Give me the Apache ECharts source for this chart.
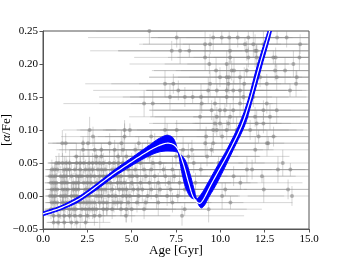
<!DOCTYPE html>
<html><head><meta charset="utf-8">
<script src="https://cdn.jsdelivr.net/npm/echarts@6/dist/echarts.min.js"></script>
<style>html,body{margin:0;padding:0;background:#fff}#c{width:344px;height:258px}</style>
</head><body><div id="c"></div>
<script>
// ---- data ----
const xTicks = ['0.0','2.5','5.0','7.5','10.0','12.5','15.0'];
const yTicks = ['−0.05','0.00','0.05','0.10','0.15','0.20','0.25'];

const alphaLevels = [0.25,0.24,0.23,0.22,0.21,0.20,0.19,0.18,0.17,0.16,0.15,0.14,0.13,0.12,0.11,0.10,0.09,0.08,0.07,0.06,0.05,0.04,0.03,0.02,0.01,0.00,-0.01,-0.02,-0.03,-0.04];

const agesByRow = [
 [6.0],
 [7.54,9.6,10.08,10.5,10.98,11.58,13.2,13.74],
 [9.14,9.42,11.39,11.86,12.43,14.5],
 [7.26,7.73,8.25,10.55,11.49,11.96,12.05],
 [9.14,10.55,11.58,12.05,12.99,13.12,14.46],
 [9.38,10.36,12.14,14.12],
 [9.76,10.64,10.77,11.49,13.09,13.65],
 [9.98,10.36,10.49,11.11,12.24,13.18,14.31],
 [6.88,7.35,9.42,10.45,11.35,12.62,14.27],
 [7.63,9.32,9.8,10.36,10.73,11.11,13.93],
 [7.16,8.0,8.44,8.91,10.36,11.3,11.86],
 [5.7,6.19,8.95,9.7,11.11,12.62],
 [9.51,9.98,10.26,10.73,12.43,13.18],
 [8.86,9.8,10.55,11.49,11.96,12.8],
 [9.7,9.98,10.45,12.05,12.43],
 [2.63,4.6,4.9,6.88,7.54,9.6,9.8,10.36,10.92,11.68],
 [2.82,4.6,6.1,7.0,9.2,10.1,12.16,13.0],
 [1.09,1.28,2.26,2.54,3.76,4.42,5.4,6.3,9.15,9.6,12.63,12.7],
 [2.26,2.91,3.29,4.04,4.51,5.2,5.9,7.9,8.4,9.5,11.97],
 [1.88,3.0,3.29,4.23,4.7,5.3,5.6,6.0,7.5,8.2,9.25,10.4],
 [0.75,1.1,1.5,1.9,2.3,2.6,3.0,3.4,3.75,4.5,5.0,5.5,6.2,6.6,7.8,8.5,9.9,13.52, 0.9,1.3,2.1,2.8,3.2,4.0,4.25],
 [0.5,0.8,1.2,1.5,1.8,2.1,2.4,2.8,3.1,3.5,3.9,4.3,4.8,5.2,5.7,6.1,6.8,7.3,8.0,8.9,11.5,11.79,13.25,13.95, 0.65,1.35,2.6,3.3,4.1,4.55],
 [0.4,0.7,1.0,1.3,1.6,1.9,2.2,2.5,2.9,3.2,3.6,4.0,4.4,4.9,5.3,5.8,6.3,6.9,7.4,8.1,10.75,12.35, 0.55,1.15,2.05,2.7,3.4,4.2,5.05],
 [0.45,0.75,1.05,1.35,1.7,2.0,2.3,2.7,3.0,3.4,3.8,4.2,4.6,5.0,5.5,6.0,6.5,7.1,7.7,8.6,11.13, 0.6,1.2,1.85,2.5,3.2,3.6,4.4],
 [0.5,0.8,1.1,1.4,1.7,2.0,2.4,2.8,3.1,3.5,3.9,4.3,4.7,5.1,5.6,6.1,6.6,7.2,8.0,10.28,12.45,13.82, 0.65,1.25,1.85,2.6,3.3,4.5,5.35],
 [0.4,0.7,1.0,1.3,1.6,1.9,2.3,2.6,3.0,3.3,3.7,4.1,4.5,4.9,5.4,5.9,6.4,7.0,7.6,10.1,14.04, 0.55,1.15,1.75,2.45,3.15,3.9,4.7],
 [0.5,0.8,1.1,1.4,1.8,2.1,2.5,2.9,3.2,3.6,4.0,4.4,4.8,5.3,5.8,6.5,7.3,10.57, 0.65,1.25,1.6,2.3,2.7,3.4,4.2],
 [0.45,0.8,1.15,1.5,1.85,2.2,2.6,3.0,3.4,3.9,4.4,5.0,5.7,7.99,9.34, 0.6,1.0,1.7,2.4,2.8,3.6,4.7],
 [0.6,0.9,1.2,1.5,1.8,2.1,2.5,2.9,3.2,4.68,7.84],
 [0.6,0.85,1.2,1.6,1.9,2.4]
];

const ageErrByRow = [
 [3.0],
 [5.0,3.5,4.0,3.0,4.5,3.5,3.0,4.0],
 [3.5,4.0,3.5,4.5,3.0,3.5],
 [4.6,3.5,4.0,4.5,3.5,4.0,3.0],
 [4.0,3.5,4.0,3.0,4.5,3.5,3.0],
 [4.5,3.5,4.0,3.5],
 [3.5,4.5,3.0,4.0,3.5,3.0],
 [4.0,3.0,4.5,3.5,4.0,3.5,3.0],
 [4.5,3.5,4.0,3.5,4.5,3.0,3.5],
 [4.8,3.5,4.0,4.5,3.0,3.5,3.0],
 [4.0,3.5,3.0,4.0,3.5,4.0,3.0],
 [4.55,3.0,4.0,3.5,4.5,3.0],
 [3.5,4.0,3.0,4.5,3.5,3.0],
 [4.0,3.5,4.5,3.0,3.5,3.0],
 [3.5,4.0,3.0,3.5,4.0],
 [1.5,2.5,3.0,3.5,4.0,3.0,4.5,3.5,4.0,3.0],
 [1.8,2.5,3.0,3.5,4.0,3.0,3.5,2.5],
 [0.8,1.0,1.5,2.0,2.5,2.0,3.0,3.5,3.0,4.0,3.5,3.0],
 [1.5,2.0,1.8,2.5,2.0,3.0,3.5,3.0,4.0,3.5,3.5],
 [1.2,2.0,1.5,2.5,3.0,2.5,3.5,3.0,3.5,4.0,3.0,3.5],
 [0.5,0.8,1.0,1.2,1.5,1.5,2.0,1.8,2.5,2.5,3.0,2.5,3.5,3.0,3.5,4.0,3.5,2.5, 0.6,0.9,1.3,1.7,2.0,2.4,2.6],
 [0.4,0.6,0.8,1.0,1.2,1.0,1.5,1.8,2.0,2.2,2.5,2.0,3.0,2.5,3.5,3.0,3.5,4.0,3.5,4.0,3.5,3.0,3.0,2.5, 0.5,1.0,1.8,2.2,2.5,2.8],
 [0.3,0.5,0.7,0.9,1.0,1.2,1.5,1.4,1.8,2.0,2.2,2.5,2.0,3.0,2.5,3.5,3.0,3.5,4.0,3.5,3.5,3.0, 0.4,0.9,1.5,1.8,2.3,2.6,3.0],
 [0.35,0.5,0.8,1.0,1.2,1.5,1.3,1.8,2.0,2.2,2.5,2.0,2.8,3.0,2.5,3.5,3.0,3.5,4.0,3.5,3.5, 0.5,0.9,1.4,1.7,2.2,2.4,2.7],
 [0.4,0.6,0.8,1.0,1.1,1.4,1.6,1.8,2.0,2.3,2.5,2.2,3.0,2.8,3.2,3.5,3.0,4.0,3.5,3.5,3.0,2.5, 0.5,1.0,1.3,1.8,2.2,2.8,3.0],
 [0.3,0.5,0.7,0.9,1.1,1.3,1.5,1.7,2.0,2.2,2.4,2.6,2.8,3.0,3.2,3.5,3.0,4.0,3.5,3.5,2.5, 0.4,0.8,1.2,1.6,2.1,2.5,2.9],
 [0.4,0.6,0.8,1.0,1.2,1.4,1.6,1.8,2.0,2.2,2.5,2.8,3.0,3.2,3.5,3.0,4.0,3.5, 0.5,0.9,1.1,1.5,1.8,2.2,2.6],
 [0.35,0.6,0.8,1.0,1.2,1.4,1.6,1.9,2.1,2.4,2.6,3.0,3.5,3.5,3.0, 0.5,0.7,1.1,1.5,1.8,2.3,2.8],
 [0.4,0.6,0.8,1.0,1.2,1.4,1.6,1.8,2.0,2.5,3.5],
 [0.4,0.6,0.8,1.0,1.2,1.4]
];

const alphaErrByRow = [
 [0.02],
 [0.015,0.02,0.01,0.025,0.015,0.02,0.01,0.015],
 [0.02,0.015,0.01,0.02,0.025,0.015],
 [0.015,0.02,0.01,0.02,0.015,0.025,0.01],
 [0.02,0.01,0.015,0.02,0.01,0.015,0.02],
 [0.015,0.02,0.01,0.02],
 [0.02,0.015,0.02,0.01,0.015,0.02],
 [0.015,0.02,0.025,0.01,0.015,0.02,0.01],
 [0.02,0.015,0.02,0.01,0.025,0.015,0.02],
 [0.015,0.02,0.01,0.02,0.015,0.02,0.01],
 [0.02,0.015,0.01,0.02,0.015,0.02,0.015],
 [0.02,0.02,0.015,0.01,0.02,0.015],
 [0.015,0.02,0.01,0.02,0.015,0.02],
 [0.02,0.015,0.02,0.01,0.015,0.02],
 [0.015,0.02,0.01,0.02,0.015],
 [0.02,0.015,0.01,0.02,0.015,0.02,0.01,0.015,0.02,0.015],
 [0.015,0.02,0.01,0.02,0.015,0.02,0.01,0.015],
 [0.02,0.015,0.01,0.02,0.015,0.02,0.01,0.015,0.02,0.015,0.02,0.01],
 [0.015,0.02,0.01,0.015,0.02,0.01,0.015,0.02,0.015,0.01,0.02],
 [0.02,0.01,0.015,0.02,0.01,0.015,0.02,0.01,0.015,0.02,0.015,0.01],
 [0.01,0.015,0.02,0.01,0.015,0.02,0.01,0.015,0.02,0.01,0.015,0.02,0.01,0.015,0.02,0.015,0.01,0.02, 0.015,0.01,0.02,0.015,0.01,0.02,0.015],
 [0.015,0.01,0.02,0.015,0.01,0.02,0.015,0.01,0.02,0.015,0.01,0.02,0.015,0.01,0.02,0.015,0.01,0.02,0.015,0.01,0.02,0.015,0.02,0.01, 0.01,0.015,0.02,0.01,0.015,0.02],
 [0.01,0.02,0.015,0.01,0.02,0.015,0.01,0.02,0.015,0.01,0.02,0.015,0.01,0.02,0.015,0.01,0.02,0.015,0.01,0.02,0.015,0.01, 0.015,0.01,0.02,0.015,0.01,0.02,0.015],
 [0.02,0.015,0.01,0.02,0.015,0.01,0.02,0.015,0.01,0.02,0.015,0.01,0.02,0.015,0.01,0.02,0.015,0.01,0.02,0.015,0.01, 0.01,0.02,0.015,0.01,0.02,0.015,0.01],
 [0.015,0.01,0.02,0.015,0.01,0.02,0.015,0.01,0.02,0.015,0.01,0.02,0.015,0.01,0.02,0.015,0.01,0.02,0.015,0.01,0.02,0.015, 0.02,0.015,0.01,0.02,0.015,0.01,0.02],
 [0.01,0.02,0.015,0.01,0.02,0.015,0.01,0.02,0.015,0.01,0.02,0.015,0.01,0.02,0.015,0.01,0.02,0.015,0.01,0.02,0.015, 0.015,0.01,0.02,0.015,0.01,0.02,0.015],
 [0.02,0.015,0.01,0.02,0.015,0.01,0.02,0.015,0.01,0.02,0.015,0.01,0.02,0.015,0.01,0.02,0.015,0.01, 0.01,0.015,0.02,0.01,0.015,0.02,0.01],
 [0.015,0.01,0.02,0.015,0.01,0.02,0.015,0.01,0.02,0.015,0.01,0.02,0.015,0.01,0.02, 0.02,0.015,0.01,0.02,0.015,0.01,0.02],
 [0.01,0.015,0.02,0.01,0.015,0.02,0.01,0.015,0.02,0.01,0.015],
 [0.01,0.015,0.01,0.015,0.01,0.015]
];

// model band: upper (top-left) envelope, lower (bottom-right) envelope, median
const bandUpper = [[0,-0.024],[1,-0.015],[2,-0.001],[2.5,0.008],[3,0.018],[4,0.039],[5,0.058],[6,0.077],[6.6,0.088],[7.0,0.092],[7.3,0.089],[7.48,0.080],[7.65,0.062],[7.82,0.037],[8.08,0.010],[8.38,-0.003],[8.68,-0.004],[8.95,0.004],[9.3,0.020],[9.8,0.044],[10.36,0.070],[11.05,0.108],[11.5,0.140],[12.09,0.198],[12.71,0.252],[12.9,0.27]];
const bandLower = [[0,-0.030],[1,-0.021],[2,-0.009],[2.5,0.000],[3,0.009],[4,0.029],[5,0.046],[6,0.061],[6.6,0.067],[7.16,0.068],[7.6,0.066],[7.98,0.056],[8.26,0.036],[8.52,0.010],[8.7,-0.008],[8.83,-0.016],[8.94,-0.018],[9.08,-0.015],[9.35,-0.002],[9.8,0.019],[10.73,0.070],[11.39,0.108],[11.75,0.140],[12.35,0.198],[12.9,0.252],[13.0,0.27]];
const bandMedian = [[0,-0.027],[1,-0.018],[2,-0.005],[2.5,0.004],[3,0.014],[4,0.034],[5,0.052],[6,0.069],[6.6,0.077],[7.0,0.080],[7.35,0.078],[7.6,0.071],[7.91,0.049],[8.2,0.021],[8.48,-0.002],[8.72,-0.010],[8.85,-0.011],[9.0,-0.007],[9.51,0.019],[10.55,0.070],[11.22,0.108],[11.62,0.140],[12.22,0.198],[12.8,0.252],[12.95,0.27]];

// ---- build ----
const stars = [];
alphaLevels.forEach((a, r) => {
  const ages = agesByRow[r], ea = ageErrByRow[r], ey = alphaErrByRow[r];
  const n = Math.min(ages.length, ea.length, ey.length);
  for (let i = 0; i < n; i++) stars.push([ages[i], a, ea[i], ey[i]]);
});

// centripetal Catmull-Rom smoothing of already-projected pixel points (drawing only)
function smoothPath(pts, seg) {
  const n = pts.length, out = [];
  const d = (a, b) => Math.pow(Math.hypot(b[0]-a[0], b[1]-a[1]) || 1e-6, 0.5);
  for (let i = 0; i < n - 1; i++) {
    const p1 = pts[i], p2 = pts[i+1];
    const p0 = i > 0 ? pts[i-1] : [2*p1[0]-p2[0], 2*p1[1]-p2[1]];
    const p3 = i < n-2 ? pts[i+2] : [2*p2[0]-p1[0], 2*p2[1]-p1[1]];
    const t0 = 0, t1 = t0 + d(p0,p1), t2 = t1 + d(p1,p2), t3 = t2 + d(p2,p3);
    for (let k = 0; k < seg; k++) {
      const t = t1 + (t2 - t1) * k / seg;
      const L = (a, b, ta, tb) => [((tb-t)*a[0] + (t-ta)*b[0])/(tb-ta), ((tb-t)*a[1] + (t-ta)*b[1])/(tb-ta)];
      const A1 = L(p0,p1,t0,t1), A2 = L(p1,p2,t1,t2), A3 = L(p2,p3,t2,t3);
      const B1 = L(A1,A2,t0,t2), B2 = L(A2,A3,t1,t3);
      out.push(L(B1,B2,t1,t2));
    }
  }
  out.push(pts[n-1]);
  return out;
}

const FONT = '"Liberation Serif","Times New Roman","DejaVu Serif",serif';
const chart = echarts.init(document.getElementById('c'), null, {renderer: 'canvas'});

function fmtY(v) {
  if (Math.abs(v) < 1e-9) return '0.00';
  const s = v.toFixed(2);
  return s.charAt(0) === '-' ? '−' + s.slice(1) : s;
}

chart.setOption({
  animation: false,
  backgroundColor: '#fff',
  grid: {left: 43, top: 31, width: 266, height: 198, outerBoundsMode: 'none', containLabel: false,
    show: true, borderColor: '#555', borderWidth: 1, backgroundColor: 'transparent'},
  xAxis: {
    type: 'value', min: 0, max: 15, interval: 2.5,
    name: 'Age [Gyr]', nameLocation: 'middle', nameGap: 15, nameMoveOverlap: false,
    nameTextStyle: {fontFamily: FONT, fontSize: 13, color: '#000'},
    axisLine: {show: true, onZero: false, lineStyle: {color: '#555', width: 1}},
    axisTick: {show: true, inside: false, length: 3.5, lineStyle: {color: '#555'}},
    axisLabel: {fontFamily: FONT, fontSize: 11, color: '#000', margin: 5,
      formatter: v => xTicks[Math.round(v / 2.5)] || ''},
    splitLine: {show: false}
  },
  yAxis: {
    type: 'value', min: -0.05, max: 0.25, interval: 0.05,
    name: '[{i|α}/Fe]', nameLocation: 'middle', nameGap: 30, nameRotate: 90, nameMoveOverlap: false,
    nameTextStyle: {fontFamily: FONT, fontSize: 13, color: '#000',
      rich: {i: {fontFamily: FONT, fontSize: 13, fontStyle: 'italic', color: '#000'}}},
    axisLine: {show: true, onZero: false, lineStyle: {color: '#555', width: 1}},
    axisTick: {show: true, inside: false, length: 3.5, lineStyle: {color: '#555'}},
    axisLabel: {fontFamily: FONT, fontSize: 11, color: '#000', margin: 5,
      formatter: v => { const i = Math.round((v + 0.05) / 0.05); return yTicks[i] || fmtY(v); }},
    splitLine: {show: false}
  },
  series: [
    {
      type: 'custom', clip: true, silent: true, z: 1,
      encode: {x: 0, y: 1},
      data: stars,
      renderItem: (params, api) => {
        const x = api.value(0), y = api.value(1), ex = api.value(2), ey = api.value(3);
        const l = api.coord([x - ex, y]), r = api.coord([x + ex, y]);
        const t = api.coord([x, y + ey]), b = api.coord([x, y - ey]);
        const style = {stroke: 'rgba(140,140,140,0.36)', lineWidth: 1, fill: null};
        return {type: 'group', children: [
          {type: 'line', shape: {x1: l[0], y1: l[1], x2: r[0], y2: r[1]}, style},
          {type: 'line', shape: {x1: t[0], y1: t[1], x2: b[0], y2: b[1]}, style}
        ]};
      }
    },
    {
      type: 'scatter', z: 2, silent: true,
      data: stars.map(s => [s[0], s[1]]),
      symbolSize: 4,
      itemStyle: {color: 'rgba(128,128,128,0.7)'}
    },
    {
      type: 'custom', clip: true, silent: true, z: 3,
      encode: {x: 0, y: 1},
      data: [[7, 0.05]],
      renderItem: (params, api) => {
        const up = smoothPath(bandUpper.map(p => api.coord(p)), 10);
        const lo = smoothPath(bandLower.map(p => api.coord(p)), 10);
        const md = smoothPath(bandMedian.map(p => api.coord(p)), 10);
        const poly = up.concat(lo.slice().reverse());
        return {type: 'group', children: [
          {type: 'polygon', shape: {points: poly}, style: {fill: '#0000ff', stroke: null}},
          {type: 'polyline', shape: {points: up}, style: {stroke: '#0000ff', lineWidth: 1, fill: null}},
          {type: 'polyline', shape: {points: lo}, style: {stroke: '#0000ff', lineWidth: 1, fill: null}},
          {type: 'polyline', shape: {points: md}, style: {stroke: '#ffffff', lineWidth: 1.2, fill: null}}
        ]};
      }
    }
  ]
});
</script>
</body></html>
